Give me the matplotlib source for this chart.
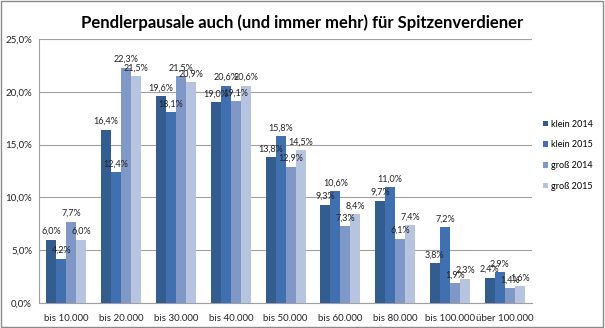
import numpy as np
import matplotlib.pyplot as plt
from matplotlib.patches import Rectangle

# data
categories = ['bis 10.000', 'bis 20.000', 'bis 30.000', 'bis 40.000', 'bis 50.000',
              'bis 60.000', 'bis 80.000', 'bis 100.000', 'über 100.000']
series = ['klein 2014', 'klein 2015', 'groß 2014', 'groß 2015']
klein_2014 = [6.0, 16.4, 19.6, 19.0, 13.8, 9.3, 9.7, 3.8, 2.4]
klein_2015 = [4.2, 12.4, 18.1, 20.6, 15.8, 10.6, 11.0, 7.2, 2.9]
gross_2014 = [7.7, 22.3, 21.5, 19.1, 12.9, 7.3, 6.1, 1.9, 1.4]
gross_2015 = [6.0, 21.5, 20.9, 20.6, 14.5, 8.4, 7.4, 2.3, 1.6]
values = [klein_2014, klein_2015, gross_2014, gross_2015]
colors = ['#335c8f', '#4170b0', '#7f98c8', '#b7c4df']

plt.rcParams['font.family'] = ['Lato', 'DejaVu Sans']

fig = plt.figure(figsize=(6.05, 3.28), dpi=100)
ax = fig.add_axes([0.0645, 0.076, 0.815, 0.805])

x = np.arange(len(categories))
w = 0.183
for i, (name, vals, c) in enumerate(zip(series, values, colors)):
    pos = x + (i - 1.5) * w
    bars = ax.bar(pos, vals, w, color=c, label=name, zorder=3)
    for b, v in zip(bars, vals):
        ax.text(b.get_x() + b.get_width() / 2, v + 0.35, f'{v:.1f}%'.replace('.', ','),
                ha='center', va='bottom', fontsize=6.5, color='#222222', zorder=4)

ax.set_xlim(-0.5, len(categories) - 0.5)
ax.set_ylim(0, 25)
ax.set_yticks(np.arange(0, 26, 5))
ax.set_yticklabels([f'{t:.1f}%'.replace('.', ',') for t in np.arange(0, 26, 5)])
ax.set_xticks(x)
ax.set_xticklabels(categories)
ax.tick_params(axis='both', labelsize=7, length=0, colors='#222222')
ax.tick_params(axis='x', pad=8)
ax.tick_params(axis='y', pad=5)
ax.grid(axis='y', color='#a0a0a0', linewidth=0.8, zorder=0)
for s in ['top', 'right']:
    ax.spines[s].set_visible(False)
ax.spines['left'].set_color('#a0a0a0')
ax.spines['bottom'].set_color('#a0a0a0')

fig.suptitle('Pendlerpausale auch (und immer mehr) für Spitzenverdiener',
             x=0.5, y=0.955, fontsize=12, fontweight='bold')

ax.legend(loc='center left', bbox_to_anchor=(1.005, 0.56), frameon=False,
          fontsize=6.5, handlelength=0.55, handleheight=0.55, handletextpad=0.4,
          labelspacing=1.3)

fig.patches.append(Rectangle((0.002, 0.003), 0.995, 0.993, transform=fig.transFigure,
                             fill=False, edgecolor='#8a8a8a', linewidth=1))

fig.savefig('out.png', dpi=100)
